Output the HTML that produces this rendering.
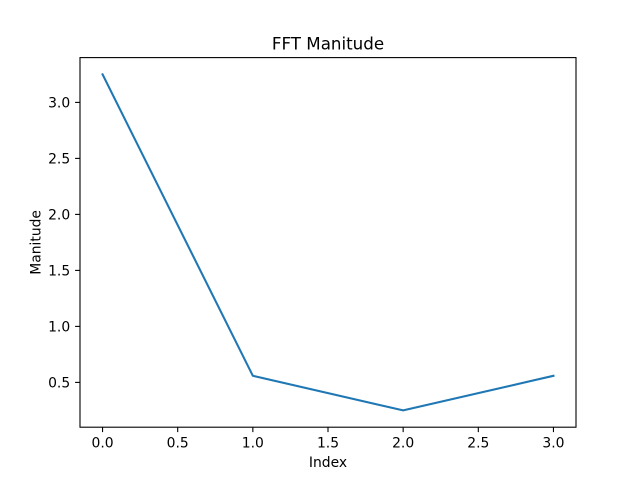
<!DOCTYPE html>
<html><head><meta charset="utf-8"><style>
html,body{margin:0;padding:0;background:#fff;}
svg text{font-family:"DejaVu Sans","Liberation Sans",sans-serif;fill:#000;}
</style></head><body>
<svg id="chart" width="640" height="480" xmlns="http://www.w3.org/2000/svg">
<rect width="640" height="480" fill="#fff"/>
<text x="328" y="49.5" font-size="16.7" text-anchor="middle">FFT Manitude</text>
<text x="328" y="467" font-size="13.9" text-anchor="middle">Index</text>
<text transform="translate(40.5,242.4) rotate(-90)" font-size="13.9" text-anchor="middle">Manitude</text>
<g id="ticks"></g>
<polyline id="line" fill="none" stroke="#1f77b4" stroke-width="2.08" stroke-linejoin="round" stroke-linecap="square"/>
<rect x="80" y="57.6" width="496" height="369.6" fill="none" stroke="#000" stroke-width="1.1"/>
</svg>
<script>
const indices = [0, 1, 2, 3];
const magnitudes = [3.25, 0.559, 0.25, 0.559];
const xTicks = [0, 0.5, 1, 1.5, 2, 2.5, 3];
const xTickLabels = ["0.0","0.5","1.0","1.5","2.0","2.5","3.0"];
const yTicks = [0.5, 1, 1.5, 2, 2.5, 3];
const yTickLabels = ["0.5","1.0","1.5","2.0","2.5","3.0"];

const L=80,R=576,T=57.6,B=427.2;
const xmin=Math.min(...indices), xmax=Math.max(...indices);
const ymin=Math.min(...magnitudes), ymax=Math.max(...magnitudes);
const xm=(xmax-xmin)*0.05, ym=(ymax-ymin)*0.05;
const X=v=>L+(v-(xmin-xm))/((xmax+xm)-(xmin-xm))*(R-L);
const Y=v=>B-(v-(ymin-ym))/((ymax+ym)-(ymin-ym))*(B-T);
const NS="http://www.w3.org/2000/svg";
const g=document.getElementById('ticks');
function mk(tag,attrs,txt){const e=document.createElementNS(NS,tag);for(const k in attrs)e.setAttribute(k,attrs[k]);if(txt!==undefined)e.textContent=txt;g.appendChild(e);return e;}
xTicks.forEach((v,i)=>{
  const l=mk('line',{x1:X(v),x2:X(v),y1:B,y2:B+4.9,stroke:'#000','stroke-width':1.1});
  
  
  const t=mk('text',{x:X(v),y:B+20.5,'font-size':13.9,'text-anchor':'middle'},xTickLabels[i]);
  
  
});
yTicks.forEach((v,i)=>{
  const l=mk('line',{x1:L-4.9,x2:L,y1:Y(v),y2:Y(v),stroke:'#000','stroke-width':1.1});
  
  
  const t=mk('text',{x:L-9.8,y:Y(v)+5,'font-size':13.9,'text-anchor':'end'},yTickLabels[i]);
  
  
});
document.getElementById('line').setAttribute('points',indices.map((v,i)=>X(v)+','+Y(magnitudes[i])).join(' '));
</script>
</body></html>
